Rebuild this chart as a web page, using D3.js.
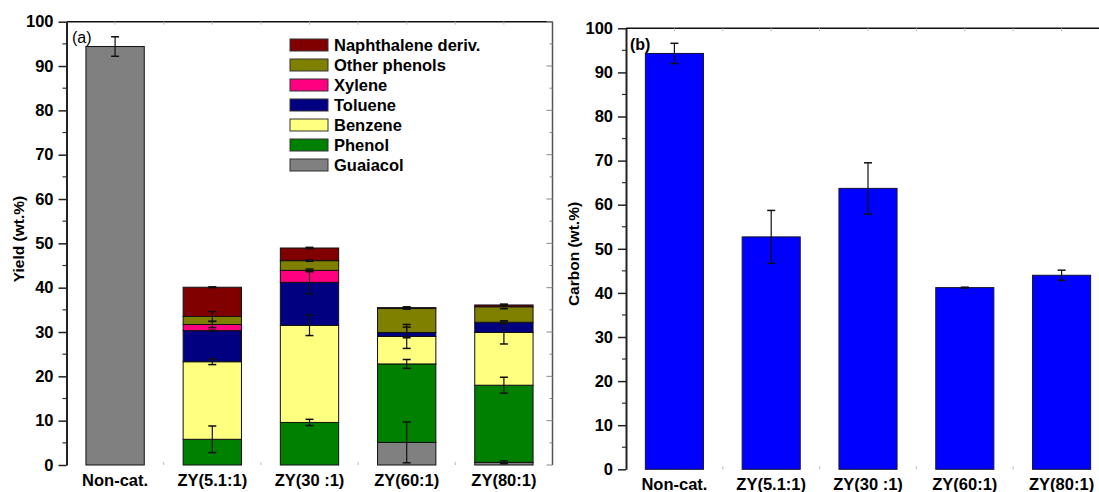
<!DOCTYPE html>
<html>
<head>
<meta charset="utf-8">
<script src="https://cdn.jsdelivr.net/npm/d3@7"></script>
<style>
  html, body { margin: 0; padding: 0; background: #fff; }
  svg { display: block; }
  text { font-family: Arial, "Liberation Sans", sans-serif; fill: #000; }
</style>
</head>
<body>
<svg id="chart" width="1099" height="492"></svg>
<script>
// Catalyst categories (shared by both panels)
const categories = ["Non-cat.", "ZY(5.1:1)", "ZY(30 :1)", "ZY(60:1)", "ZY(80:1)"];

// Panel (a): product yields (wt.%), stacked bottom to top
const compounds = ["Guaiacol", "Phenol", "Benzene", "Toluene", "Xylene", "Other phenols", "Naphthalene deriv."];
const guaiacol    = [94.4, 0.0, 0.0, 5.1, 0.6];
const phenol      = [0.0, 5.8, 9.6, 17.7, 17.4];
const benzene     = [0.0, 17.5, 21.9, 6.2, 11.9];
const toluene     = [0.0, 7.0, 9.7, 0.9, 2.3];
const xylene      = [0.0, 1.4, 2.7, 0.0, 0.0];
const otherPhenol = [0.0, 1.8, 2.2, 5.4, 3.5];
const naphthalene = [0.0, 6.6, 2.85, 0.2, 0.4];

// Error (±) for each component, drawn at the top of its stacked segment
const guaiacolErr    = [2.2, 0, 0, 4.6, 0.3];
const phenolErr      = [0, 3.0, 0.7, 1.0, 1.8];
const benzeneErr     = [0, 0.65, 2.3, 2.7, 2.6];
const tolueneErr     = [0, 0.1, 2.6, 1.2, 0.3];
const xyleneErr      = [0, 0.7, 0.3, 0, 0];
const otherPhenolErr = [0, 1.1, 0.15, 0.15, 0.45];
const naphthaleneErr = [0, 0.1, 0.15, 0.2, 0.2];

const compoundColors = ["#808080", "#008000", "#FFFF80", "#000080", "#FF0080", "#808000", "#800000"];

// Panel (b): carbon yield (wt.%)
const carbon    = [94.3, 52.7, 63.7, 41.2, 44.0];
const carbonErr = [2.3, 6.0, 5.8, 0.1, 1.15];

// Axis ticks
const yTicks = [0, 10, 20, 30, 40, 50, 60, 70, 80, 90, 100];
const yMinorTicks = [5, 15, 25, 35, 45, 55, 65, 75, 85, 95];

const svg = d3.select("#chart");
const FONT_BOLD = 16.5;

// Draws frame, axes, ticks and category labels for one panel; returns scales
function drawFrame(g, box, yTitle, labelDy) {
  const x = d3.scaleBand().domain(categories).range([box.left, box.right])
    .paddingInner(0.4).paddingOuter(0.2);
  const xi = d3.scaleLinear().domain([0.5, categories.length + 0.5]).range([box.left, box.right]);
  const y = d3.scaleLinear().domain([0, 100]).range([box.bottom, box.top]);

  // left axis with outward ticks
  const yAxis = d3.axisLeft(y).tickValues(yTicks).tickSize(8).tickPadding(5).tickSizeOuter(0);
  const ya = g.append("g").attr("transform", `translate(${box.left},0)`).call(yAxis);
  ya.select(".domain").attr("stroke", "#222").attr("stroke-width", 2);
  ya.selectAll(".tick line").attr("stroke", "#222").attr("stroke-width", 1.5);
  ya.selectAll(".tick text").attr("font-size", FONT_BOLD).attr("font-weight", "bold").attr("fill", "#111");
  g.append("g").selectAll("line").data(yMinorTicks).join("line")
    .attr("x1", box.left - 4).attr("x2", box.left)
    .attr("y1", d => y(d)).attr("y2", d => y(d))
    .attr("stroke", "#333").attr("stroke-width", 1.2);

  // top border with small inward ticks at half-category steps
  g.append("line").attr("x1", box.left).attr("x2", box.right)
    .attr("y1", box.top).attr("y2", box.top).attr("stroke", "#111").attr("stroke-width", 1.5);
  const halfSteps = d3.range(1, categories.length * 2).map(k => 0.5 + k / 2);
  g.append("g").selectAll("line").data(halfSteps).join("line")
    .attr("x1", d => xi(d)).attr("x2", d => xi(d))
    .attr("y1", box.top).attr("y2", box.top + 3)
    .attr("stroke", "#bbb").attr("stroke-width", 1);
  g.append("g").selectAll("line").data(halfSteps).join("line")
    .attr("x1", d => xi(d)).attr("x2", d => xi(d))
    .attr("y1", box.bottom).attr("y2", box.bottom - 3)
    .attr("stroke", "#bbb").attr("stroke-width", 1);

  // right border with inward ticks
  if (box.right < 1099) {
    g.append("line").attr("x1", box.right).attr("x2", box.right)
      .attr("y1", box.top).attr("y2", box.bottom).attr("stroke", "#555").attr("stroke-width", 1.5);
    g.append("g").selectAll("line").data(yTicks.concat(yMinorTicks)).join("line")
      .attr("x1", d => box.right - (d % 10 === 0 ? 6 : 3)).attr("x2", box.right)
      .attr("y1", d => y(d)).attr("y2", d => y(d))
      .attr("stroke", "#888").attr("stroke-width", 1);
  }

  // category labels
  g.append("g").selectAll("text").data(categories).join("text")
    .attr("x", d => x(d) + x.bandwidth() / 2)
    .attr("y", box.bottom + labelDy)
    .attr("text-anchor", "middle")
    .attr("font-size", FONT_BOLD).attr("font-weight", "bold").attr("fill", "#111")
    .text(d => d);

  // y-axis title
  g.append("text")
    .attr("transform", `translate(${yTitle.x},${yTitle.y}) rotate(-90)`)
    .attr("text-anchor", "middle").attr("dominant-baseline", "central")
    .attr("font-size", 15.5).attr("font-weight", "bold").attr("fill", "#111")
    .text(yTitle.text);

  return { x, y, box };
}

function errorBar(g, cx, yScale, v, e) {
  const capW = 8;
  const y1 = yScale(v + e), y2 = yScale(v - e);
  g.append("line").attr("x1", cx).attr("x2", cx).attr("y1", y1).attr("y2", y2)
    .attr("stroke", "#111").attr("stroke-width", 1.2);
  [y1, y2].forEach(yy => g.append("line")
    .attr("x1", cx - capW / 2).attr("x2", cx + capW / 2).attr("y1", yy).attr("y2", yy)
    .attr("stroke", "#111").attr("stroke-width", 1.5));
}

// ---------- Panel (a): stacked yields ----------
const gA = svg.append("g");
const A = drawFrame(gA, { left: 66.5, right: 552.5, top: 21.7, bottom: 465 },
  { text: "Yield (wt.%)", x: 18.5, y: 239 }, 21);

const seriesVals = [guaiacol, phenol, benzene, toluene, xylene, otherPhenol, naphthalene];
const seriesErrs = [guaiacolErr, phenolErr, benzeneErr, tolueneErr, xyleneErr, otherPhenolErr, naphthaleneErr];
const rows = categories.map((c, i) => {
  const r = { cat: c };
  compounds.forEach((k, j) => { r[k] = seriesVals[j][i]; });
  return r;
});
const stacked = d3.stack().keys(compounds)(rows);

const barsA = gA.append("g");
stacked.forEach((layer, j) => {
  barsA.append("g").selectAll("rect")
    .data(layer.filter(d => d[1] - d[0] > 0))
    .join("rect")
    .attr("x", d => A.x(d.data.cat))
    .attr("width", A.x.bandwidth())
    .attr("y", d => A.y(d[1]))
    .attr("height", d => A.y(d[0]) - A.y(d[1]))
    .attr("fill", compoundColors[j])
    .attr("stroke", "#111").attr("stroke-width", 1);
});
const errA = gA.append("g");
stacked.forEach((layer, j) => {
  layer.forEach((d, i) => {
    const e = seriesErrs[j][i];
    if (e > 0) errorBar(errA, A.x(d.data.cat) + A.x.bandwidth() / 2, A.y, d[1], e);
  });
});

// panel tag
gA.append("text").attr("x", 72).attr("y", 43).attr("font-size", 16).text("(a)");

// legend (top entry = top of stack)
const legendKeys = compounds.slice().reverse();
const legend = gA.append("g").attr("transform", "translate(290,39)");
legendKeys.forEach((k, i) => {
  const row = legend.append("g").attr("transform", `translate(0,${i * 20})`);
  row.append("rect").attr("width", 38).attr("height", 12)
    .attr("fill", compoundColors[compounds.indexOf(k)])
    .attr("stroke", "#333").attr("stroke-width", 1);
  row.append("text").attr("x", 44).attr("y", 11.6)
    .attr("font-size", FONT_BOLD).attr("font-weight", "bold").attr("fill", "#111").text(k);
});

// ---------- Panel (b): carbon ----------
const gB = svg.append("g");
const B = drawFrame(gB, { left: 626, right: 1110, top: 28.3, bottom: 469.3 },
  { text: "Carbon (wt.%)", x: 573.5, y: 254 }, 21);

gB.append("g").selectAll("rect").data(categories).join("rect")
  .attr("x", d => B.x(d))
  .attr("width", B.x.bandwidth())
  .attr("y", (d, i) => B.y(carbon[i]))
  .attr("height", (d, i) => B.y(0) - B.y(carbon[i]))
  .attr("fill", "#0000FF")
  .attr("stroke", "#111133").attr("stroke-width", 1);
const errB = gB.append("g");
categories.forEach((c, i) => errorBar(errB, B.x(c) + B.x.bandwidth() / 2, B.y, carbon[i], carbonErr[i]));

gB.append("text").attr("x", 630).attr("y", 50).attr("font-size", 16).attr("font-weight", "bold").text("(b)");
</script>
</body>
</html>
